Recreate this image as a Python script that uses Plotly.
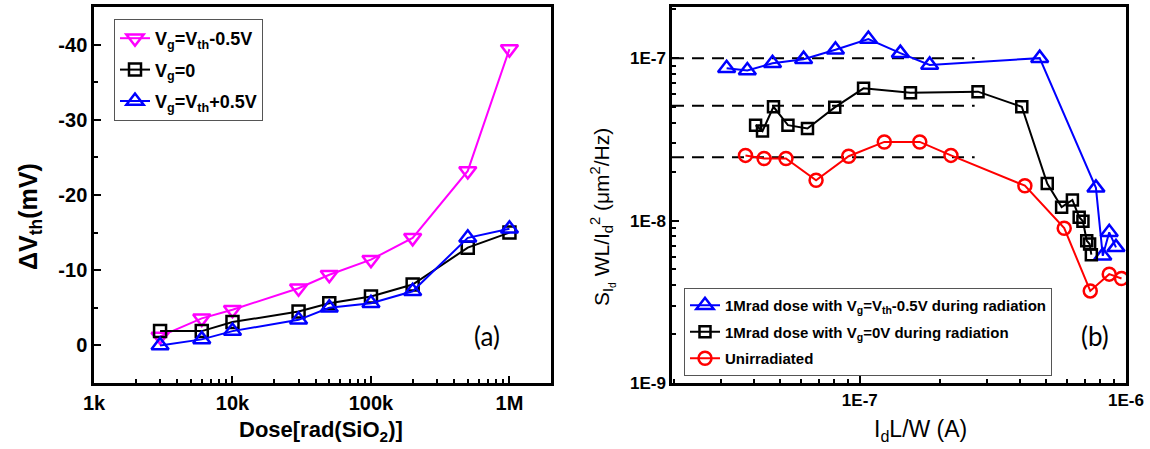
import plotly.graph_objects as go
import numpy as np

# ---------------- Panel (a) data ----------------
dose = [3e3, 6e3, 1e4, 3e4, 5e4, 1e5, 2e5, 5e5, 1e6]
dvth_minus = [-1.2, -3.6, -4.75, -7.6, -9.4, -11.4, -14.3, -23.2, -39.4]
dvth_zero = [-1.9, -1.9, -3.1, -4.5, -5.6, -6.5, -8.1, -13.0, -15.0]
dvth_plus = [0.0, -0.8, -1.9, -3.4, -5.0, -5.6, -7.2, -14.3, -15.5]
a_xticks = [1e3, 1e4, 1e5, 1e6]
a_xticktext = ["1k", "10k", "100k", "1M"]
a_yticks = [-40, -30, -20, -10, 0]
a_yticktext = ["-40", "-30", "-20", "-10", "0"]

# ---------------- Panel (b) data ----------------
blue_x = [3.16e-8, 3.78e-8, 4.70e-8, 6.15e-8, 8.1e-8, 1.077e-7, 1.42e-7, 1.83e-7,
          4.74e-7, 7.71e-7, 8.18e-7, 8.65e-7, 9.17e-7]
blue_y = [8.67e-8, 8.39e-8, 9.31e-8, 9.86e-8, 1.127e-7, 1.31e-7, 1.074e-7, 9.09e-8,
          1.0e-7, 1.59e-8, 6.07e-9, 8.47e-9, 6.84e-9]
black_x = [4.06e-8, 4.31e-8, 4.74e-8, 5.37e-8, 6.36e-8, 8.05e-8, 1.033e-7, 1.55e-7,
           2.78e-7, 4.06e-7, 5.06e-7, 5.73e-7, 6.29e-7, 6.67e-7, 6.89e-7, 7.12e-7,
           7.30e-7, 7.41e-7]
black_y = [3.87e-8, 3.56e-8, 5.02e-8, 3.87e-8, 3.69e-8, 4.98e-8, 6.52e-8, 6.13e-8,
           6.22e-8, 5.02e-8, 1.69e-8, 1.21e-8, 1.34e-8, 1.05e-8, 9.9e-9, 7.52e-9,
           7.17e-9, 6.17e-9]
red_x = [3.72e-8, 4.37e-8, 5.28e-8, 6.85e-8, 9.08e-8, 1.236e-7, 1.68e-7, 2.20e-7,
         4.17e-7, 5.86e-7, 7.34e-7, 8.65e-7, 9.62e-7]
red_y = [2.52e-8, 2.41e-8, 2.41e-8, 1.77e-8, 2.49e-8, 3.05e-8, 3.05e-8, 2.52e-8,
         1.64e-8, 8.98e-9, 3.69e-9, 4.68e-9, 4.40e-9]
ref_x = [1.97e-8, 2.7e-7]
ref_levels = [1.0e-7, 5.1e-8, 2.45e-8]
b_xticks = [1e-7, 1e-6]
b_xticktext = ["1E-7", "1E-6"]
b_yticks = [1e-9, 1e-8, 1e-7]
b_yticktext = ["1E-9", "1E-8", "1E-7"]

FONT = "Liberation Sans, Arial, sans-serif"

fig = go.Figure()

# Panel (a) traces
fig.add_trace(go.Scatter(x=dose, y=dvth_minus, mode="lines+markers",
                         name="V<sub>g</sub>=V<sub>th</sub>-0.5V",
                         line=dict(color="#FF00FF", width=2),
                         marker=dict(symbol="triangle-down-open", size=15, color="#FF00FF",
                                     line=dict(width=2.5, color="#FF00FF")),
                         xaxis="x", yaxis="y", legend="legend", legendgroup="a1"))
fig.add_trace(go.Scatter(x=dose, y=dvth_zero, mode="lines+markers",
                         name="V<sub>g</sub>=0",
                         line=dict(color="black", width=2),
                         marker=dict(symbol="square-open", size=12, color="black",
                                     line=dict(width=2.5, color="black")),
                         xaxis="x", yaxis="y", legend="legend", legendgroup="a2"))
fig.add_trace(go.Scatter(x=dose, y=dvth_plus, mode="lines+markers",
                         name="V<sub>g</sub>=V<sub>th</sub>+0.5V",
                         line=dict(color="#0000FF", width=2),
                         marker=dict(symbol="triangle-up-open", size=15, color="#0000FF",
                                     line=dict(width=2.5, color="#0000FF")),
                         xaxis="x", yaxis="y", legend="legend", legendgroup="a3"))

# Panel (b) reference dashed lines
for lv in ref_levels:
    fig.add_trace(go.Scatter(x=ref_x, y=[lv, lv], mode="lines",
                             line=dict(color="black", width=2, dash="12px,8px"),
                             showlegend=False, hoverinfo="skip",
                             xaxis="x2", yaxis="y2"))

fig.add_trace(go.Scatter(x=blue_x, y=blue_y, mode="lines+markers",
                         name="1Mrad dose with V<sub>g</sub>=V<sub>th</sub>-0.5V during radiation",
                         line=dict(color="#0000FF", width=2),
                         marker=dict(symbol="triangle-up-open", size=15, color="#0000FF",
                                     line=dict(width=2.5, color="#0000FF")),
                         xaxis="x2", yaxis="y2", legend="legend2", legendgroup="g1"))
fig.add_trace(go.Scatter(x=black_x, y=black_y, mode="lines+markers",
                         name="1Mrad dose with V<sub>g</sub>=0V during radiation",
                         line=dict(color="black", width=2),
                         marker=dict(symbol="square-open", size=11, color="black",
                                     line=dict(width=2.5, color="black")),
                         xaxis="x2", yaxis="y2", legend="legend2", legendgroup="g2"))
fig.add_trace(go.Scatter(x=red_x, y=red_y, mode="lines+markers",
                         name="Unirradiated",
                         line=dict(color="#FF0000", width=2),
                         marker=dict(symbol="circle-open", size=13, color="#FF0000",
                                     line=dict(width=2.5, color="#FF0000")),
                         xaxis="x2", yaxis="y2", legend="legend2", legendgroup="g3"))

W, H = 1150, 449
def px(x):
    return x / W
def py(y):
    return 1 - y / H

minor_a = [m * 10 ** e for e in range(3, 7) for m in range(2, 10)]
minor_bx = [m * 10 ** e for e in (-8, -7) for m in range(2, 10)]
minor_by = [m * 10 ** e for e in (-9, -8, -7) for m in range(2, 10)]

axis_common = dict(showline=True, linecolor="black", linewidth=2.5, mirror=True,
                   ticks="inside", ticklen=7, tickwidth=2, tickcolor="black",
                   showgrid=False, zeroline=False, automargin=False)

fig.update_layout(
    width=W, height=H,
    margin=dict(l=0, r=0, t=0, b=0, pad=0),
    paper_bgcolor="white", plot_bgcolor="white",
    font=dict(family=FONT, color="black"),
    xaxis=dict(domain=[px(94), px(551)], type="log", range=[3, 6.3],
               tickvals=a_xticks, ticktext=a_xticktext,
               tickfont=dict(size=20, weight="bold", family=FONT),
               minor=dict(tickvals=minor_a, ticks="inside", ticklen=4, tickwidth=1.5,
                          tickcolor="black"),
               anchor="y", **axis_common),
    yaxis=dict(domain=[py(383), py(7)], range=[5, -45],
               tickvals=a_yticks, ticktext=a_yticktext,
               tickfont=dict(size=20, weight="bold", family=FONT),
               minor=dict(dtick=5, tick0=0, ticks="inside", ticklen=4, tickwidth=1.5,
                          tickcolor="black"),
               anchor="x", **axis_common),
    xaxis2=dict(domain=[px(672), px(1126)], type="log", range=[np.log10(ref_x[0]), -6],
                tickvals=b_xticks, ticktext=b_xticktext,
                tickfont=dict(size=17, weight="bold", family=FONT),
                minor=dict(tickvals=minor_bx, ticks="inside", ticklen=4, tickwidth=1.5,
                           tickcolor="black"),
                anchor="y2", **axis_common),
    yaxis2=dict(domain=[py(383), py(7)], type="log", range=[-9, -6.685],
                tickvals=b_yticks, ticktext=b_yticktext,
                tickfont=dict(size=17, weight="bold", family=FONT),
                minor=dict(tickvals=minor_by, ticks="inside", ticklen=4, tickwidth=1.5,
                           tickcolor="black"),
                anchor="x2", **axis_common),
    legend=dict(x=px(114), y=py(19), xanchor="left", yanchor="top",
                bgcolor="white", bordercolor="#555555", borderwidth=1,
                font=dict(size=18, weight="bold", family=FONT),
                tracegroupgap=5, traceorder="grouped", itemwidth=30),
    legend2=dict(x=px(684), y=py(288), xanchor="left", yanchor="top",
                 bgcolor="white", bordercolor="#555555", borderwidth=1,
                 font=dict(size=15, weight="bold", family=FONT),
                 tracegroupgap=4, traceorder="grouped", itemwidth=30),
    showlegend=True,
)

def ann(text, x, y, size, bold=False, angle=0, family=FONT):
    f = dict(size=size, family=family, color="black")
    if bold:
        f["weight"] = "bold"
    return dict(text=text, x=px(x), y=py(y), xref="paper", yref="paper",
                xanchor="center", yanchor="middle", textangle=angle,
                showarrow=False, font=f)

annotations = [
    ann("ΔV<sub>th</sub>(mV)", 30, 217, 25, bold=True, angle=-90),
    ann("Dose[rad(SiO<sub>2</sub>)]", 321, 431, 22, bold=True),
    ann("(a)", 487, 336, 26, family="Lato, Open Sans, sans-serif"),
    ann("S<sub>I<sub>d</sub></sub> WL/I<sub>d</sub><sup>2</sup> (μm<sup>2</sup>/Hz)",
        602, 217, 21, angle=-90),
    ann("I<sub>d</sub>L/W (A)", 920, 430, 23),
    ann("(b)", 1095, 336, 26, family="Lato, Open Sans, sans-serif"),
]
fig.update_layout(annotations=annotations)

fig.write_html("out.html", config={"displayModeBar": False})
